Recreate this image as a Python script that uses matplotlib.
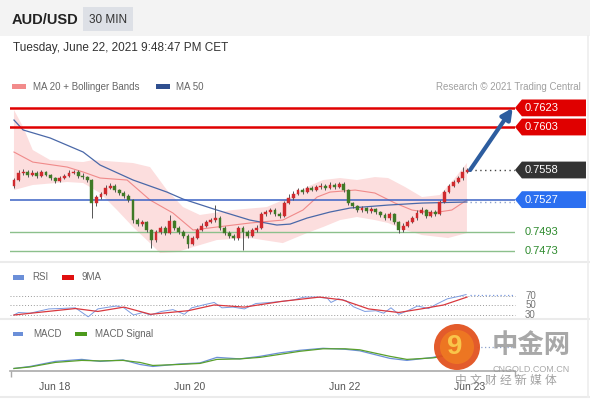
import numpy as np
import matplotlib.pyplot as plt
from matplotlib.patches import Polygon, Rectangle, Circle

plt.rcParams['font.family'] = ['Liberation Sans', 'Noto Sans CJK SC', 'DejaVu Sans']

# AUD/USD 30 min candles
opens = [0.75412, 0.75475, 0.75548, 0.75559, 0.75527, 0.75548, 0.75517, 0.75559, 0.75527, 0.75496,
         0.75465, 0.75496, 0.75517, 0.75548, 0.75559, 0.75517, 0.75507, 0.75475, 0.75234, 0.75297,
         0.75329, 0.75391, 0.75412, 0.75370, 0.75339, 0.75308, 0.75266, 0.75056, 0.75014, 0.75035,
         0.74952, 0.74847, 0.74931, 0.74973, 0.74920, 0.75046, 0.74973, 0.74931, 0.74889, 0.74805,
         0.74868, 0.74952, 0.74994, 0.75035, 0.75056, 0.75077, 0.74973, 0.74920, 0.74889, 0.74868,
         0.74973, 0.74931, 0.74889, 0.74952, 0.74973, 0.75119, 0.75140, 0.75161, 0.75119, 0.75098,
         0.75234, 0.75287, 0.75329, 0.75370, 0.75349, 0.75391, 0.75370, 0.75402, 0.75412, 0.75391,
         0.75423, 0.75402, 0.75433, 0.75370, 0.75234, 0.75203, 0.75161, 0.75182, 0.75151, 0.75171,
         0.75140, 0.75109, 0.75077, 0.75119, 0.75035, 0.74952, 0.74994, 0.75035, 0.75077, 0.75130,
         0.75161, 0.75098, 0.75140, 0.75119, 0.75245, 0.75349, 0.75412, 0.75454, 0.75496, 0.75559]
closes = [0.75475, 0.75548, 0.75559, 0.75527, 0.75548, 0.75517, 0.75559, 0.75527, 0.75496, 0.75465,
          0.75496, 0.75517, 0.75548, 0.75559, 0.75517, 0.75507, 0.75475, 0.75234, 0.75297, 0.75329,
          0.75391, 0.75412, 0.75370, 0.75339, 0.75308, 0.75266, 0.75056, 0.75014, 0.75035, 0.74952,
          0.74847, 0.74931, 0.74973, 0.74920, 0.75046, 0.74973, 0.74931, 0.74889, 0.74805, 0.74868,
          0.74952, 0.74994, 0.75035, 0.75056, 0.75077, 0.74973, 0.74920, 0.74889, 0.74868, 0.74973,
          0.74931, 0.74889, 0.74952, 0.74973, 0.75119, 0.75140, 0.75161, 0.75119, 0.75098, 0.75234,
          0.75287, 0.75329, 0.75370, 0.75349, 0.75391, 0.75370, 0.75402, 0.75412, 0.75391, 0.75423,
          0.75402, 0.75433, 0.75370, 0.75234, 0.75203, 0.75161, 0.75182, 0.75151, 0.75171, 0.75140,
          0.75109, 0.75077, 0.75119, 0.75035, 0.74952, 0.74994, 0.75035, 0.75077, 0.75130, 0.75161,
          0.75098, 0.75140, 0.75119, 0.75245, 0.75349, 0.75412, 0.75454, 0.75496, 0.75559, 0.75580]
highs = [0.75500, 0.75580, 0.75590, 0.75575, 0.75575, 0.75565, 0.75585, 0.75570, 0.75540, 0.75510,
         0.75520, 0.75540, 0.75575, 0.75580, 0.75575, 0.75545, 0.75520, 0.75485, 0.75320, 0.75350,
         0.75420, 0.75440, 0.75430, 0.75385, 0.75355, 0.75325, 0.75280, 0.75080, 0.75060, 0.75050,
         0.74965, 0.74955, 0.74995, 0.74990, 0.75110, 0.75060, 0.74990, 0.74950, 0.74905, 0.74890,
         0.74975, 0.75020, 0.75060, 0.75080, 0.75213, 0.75100, 0.74990, 0.74940, 0.74910, 0.74995,
         0.74990, 0.74950, 0.74975, 0.75000, 0.75140, 0.75165, 0.75185, 0.75180, 0.75140, 0.75260,
         0.75330, 0.75360, 0.75395, 0.75390, 0.75415, 0.75410, 0.75425, 0.75440, 0.75430, 0.75450,
         0.75440, 0.75455, 0.75450, 0.75385, 0.75250, 0.75215, 0.75205, 0.75195, 0.75195, 0.75185,
         0.75155, 0.75125, 0.75140, 0.75135, 0.75050, 0.75020, 0.75060, 0.75100, 0.75160, 0.75190,
         0.75175, 0.75165, 0.75160, 0.75270, 0.75370, 0.75435, 0.75475, 0.75520, 0.75610, 0.75600]
lows = [0.75390, 0.75460, 0.75530, 0.75510, 0.75515, 0.75500, 0.75505, 0.75515, 0.75480, 0.75445,
        0.75455, 0.75485, 0.75505, 0.75535, 0.75500, 0.75490, 0.75455, 0.75077, 0.75200, 0.75280,
        0.75315, 0.75380, 0.75350, 0.75320, 0.75290, 0.75250, 0.75030, 0.74990, 0.74995, 0.74930,
        0.74763, 0.74830, 0.74915, 0.74900, 0.74905, 0.74955, 0.74910, 0.74870, 0.74763, 0.74790,
        0.74855, 0.74940, 0.74980, 0.75020, 0.75040, 0.74955, 0.74900, 0.74870, 0.74845, 0.74850,
        0.74742, 0.74870, 0.74875, 0.74935, 0.74960, 0.75100, 0.75120, 0.75100, 0.75080, 0.75085,
        0.75220, 0.75270, 0.75315, 0.75330, 0.75335, 0.75355, 0.75355, 0.75385, 0.75375, 0.75380,
        0.75385, 0.75390, 0.75350, 0.75215, 0.75185, 0.75140, 0.75145, 0.75130, 0.75135, 0.75120,
        0.75090, 0.75055, 0.75060, 0.75010, 0.74920, 0.74935, 0.74980, 0.75020, 0.75060, 0.75115,
        0.75080, 0.75085, 0.75100, 0.75105, 0.75230, 0.75335, 0.75400, 0.75440, 0.75480, 0.75545]

# indicators, sampled at candle positions
ma20_x = [0, 4.1, 11.6, 15.1, 18.8, 24.7, 29.7, 34.7, 39.1, 44.3, 51.5, 58.7, 63.1, 66.2, 69.0,
          74.5, 78.8, 83.2, 86.9, 91.3, 95.6, 98.9]
ma20 = [0.75768, 0.75663, 0.75611, 0.75559, 0.75496, 0.75475, 0.75266, 0.75130, 0.74952, 0.74983,
        0.75025, 0.75056, 0.75161, 0.75297, 0.75349, 0.75370, 0.75339, 0.75234, 0.75161, 0.75130,
        0.75161, 0.75266]
ma50_x = [0, 2.0, 7.9, 15.1, 18.8, 26.0, 33.4, 36.9, 44.3, 51.5, 57.4, 60.3, 64.0, 69.0, 73.4,
          81.7, 89.1, 98.9]
ma50 = [0.76103, 0.75999, 0.75915, 0.75768, 0.75632, 0.75475, 0.75349, 0.75276, 0.75161, 0.75056,
        0.75004, 0.75014, 0.75077, 0.75140, 0.75182, 0.75213, 0.75234, 0.75245]
bb_up_x = [0, 2.0, 4.1, 7.9, 15.1, 17.2, 26.0, 29.7, 33.4, 36.9, 40.6, 47.8, 55.2, 60.3, 64.0,
           67.5, 71.2, 74.9, 78.8, 81.7, 85.4, 89.1, 93.0, 96.3, 98.9]
bb_up = [0.76208, 0.76030, 0.75789, 0.75684, 0.75663, 0.75684, 0.75653, 0.75611, 0.75370, 0.75192,
         0.75109, 0.75161, 0.75192, 0.75297, 0.75402, 0.75475, 0.75496, 0.75475, 0.75506, 0.75496,
         0.75402, 0.75297, 0.75318, 0.75496, 0.75653]
bb_lo_x = [0, 4.1, 11.6, 15.1, 18.8, 22.5, 26.0, 29.7, 31.9, 35.6, 39.1, 44.3, 51.5, 58.7, 60.3,
           64.0, 67.5, 71.2, 74.9, 78.8, 81.7, 85.4, 89.1, 94.8, 98.9]
bb_lo = [0.75370, 0.75423, 0.75454, 0.75444, 0.75339, 0.75161, 0.74983, 0.74815, 0.74711, 0.74721,
         0.74773, 0.74847, 0.74868, 0.74815, 0.74847, 0.74920, 0.74983, 0.75056, 0.75088, 0.75056,
         0.75025, 0.74952, 0.74899, 0.74868, 0.74920]

rsi_x = [0, 1, 3.5, 7.6, 10, 13.4, 16.2, 18.3, 20.7, 22.4, 24, 26.1, 28.1, 29.8, 32.2, 34.7, 37.2,
         38.8, 41.3, 43.7, 45.4, 47.8, 50.3, 52.8, 56, 58.5, 61, 63.4, 65.9, 68.4, 69.2, 70.8, 72.5,
         74.1, 76.6, 79, 80.7, 82.3, 84, 85.6, 88.1, 90.5, 92.2, 94.6, 97.1, 98.7]
rsi = [30, 35.3, 33.8, 42.8, 43.6, 45.1, 26.2, 42.8, 46.6, 48.9, 45.1, 30, 35.3, 30, 37.5, 41.3, 31.5,
       45.1, 51.1, 56.4, 45.1, 46.6, 42.8, 54.2, 56.4, 58.7, 61.7, 67.7, 67.7, 65.5, 56.4, 64, 60.2,
       47.4, 37.5, 39, 33.8, 45.1, 31.5, 37.5, 48.9, 43.6, 52.6, 64, 69.2, 73]
rsi_ma_x = [0, 5.2, 13.4, 18.3, 24, 29.8, 38, 43.7, 50.3, 58.5, 66.7, 71.7, 77.4, 84, 88.9, 93.8, 98.9]
rsi_ma = [30, 35.3, 43.6, 37.5, 46.6, 31.5, 39, 51.1, 46.6, 58.7, 67.7, 61.7, 42.8, 35.3, 42.8, 51.1, 67.7]
rsi_levels = [70, 50, 30]

macd_x = [0, 3.5, 9.0, 14.8, 18.8, 23.8, 27.5, 30.3, 36.2, 40.6, 44.3, 49.3, 53.7, 58.1, 62.4, 67.5,
          72.3, 75.5, 82.1, 85.8, 91.5, 96.3, 99.1]
macd = [-0.0008, -0.0006, -0.0001, 0.0001, -0.0001, 0.00005, -0.0004, -0.0006, -0.00035, -0.00025,
        0.0003, 0.00015, 0.0004, 0.00075, 0.0010, 0.0012, 0.0011, 0.00095, 0.0002, 0.0, 0.0003,
        0.0008, 0.0013]
macd_signal = [-0.0008, -0.00065, -0.0002, 0.0, -0.00005, 0.0, -0.0002, -0.0005, -0.0004, -0.0003,
               0.0001, 0.00015, 0.0003, 0.0006, 0.0009, 0.00115, 0.00115, 0.00105, 0.0004, 0.0001,
               0.00025, 0.0006, 0.0010]

resistances = [0.7623, 0.7603]
pivot = 0.7527
supports = [0.7493, 0.7473]
last_price = 0.7558

date_ticks = [8.95, 38.4, 72.3, 99.6]
date_labels = ['Jun 18', 'Jun 20', 'Jun 22', 'Jun 23']

X0, X1 = -0.87, 109.4   # visible candle range (pixel 10 .. 515)

fig = plt.figure(figsize=(5.9, 4.0), dpi=100)
fig.patch.set_facecolor('white')

# background layer in pixel coordinates
bg = fig.add_axes([0, 0, 1, 1], zorder=0)
bg.set_xlim(0, 590)
bg.set_ylim(400, 0)
bg.axis('off')
bg.add_patch(Rectangle((0, 0), 590, 36, color='#f3f3f3', lw=0))
bg.add_patch(Rectangle((83, 7), 50, 24, color='#dde0e6', lw=0))
bg.text(12, 20, 'AUD/USD', fontsize=10.5, fontweight='bold', color='#222222', va='center')
bg.text(108, 20, '30 MIN', fontsize=8.5, color='#333333', va='center', ha='center')
bg.text(13, 48, 'Tuesday, June 22, 2021 9:48:47 PM CET', fontsize=8.5, color='#333333', va='center')
for yy in [262, 318.5, 397]:
    bg.axhline(yy, color='#ebebeb', lw=1.5)
bg.axvline(588, ymin=0.0075, ymax=0.91, color='#eeeeee', lw=1.2)

legend_col = '#666666'
bg.add_patch(Rectangle((12, 84), 14, 5, color='#f28b8b', lw=0))
bg.text(33, 86.5, 'MA 20 + Bollinger Bands', fontsize=7, color=legend_col, va='center')
bg.add_patch(Rectangle((156, 84), 14, 5, color='#2f4f8f', lw=0))
bg.text(176, 86.5, 'MA 50', fontsize=7, color=legend_col, va='center')
bg.text(581, 86.5, 'Research \u00a9 2021 Trading Central', fontsize=7, color='#a0a0a0',
        va='center', ha='right')
bg.add_patch(Rectangle((13, 275), 11, 5, color='#6b8fd8', lw=0))
bg.text(32, 277.5, 'RSI', fontsize=7, color=legend_col, va='center')
bg.add_patch(Rectangle((62, 275), 12, 5, color='#e01010', lw=0))
bg.text(82, 277.5, '9MA', fontsize=7, color=legend_col, va='center')
bg.add_patch(Rectangle((13, 332), 10, 4, color='#6b8fd8', lw=0))
bg.text(33, 334, 'MACD', fontsize=7, color=legend_col, va='center')
bg.add_patch(Rectangle((75, 332), 12, 4, color='#4c9a1c', lw=0))
bg.text(95, 334, 'MACD Signal', fontsize=7, color=legend_col, va='center')

# main price panel
ax = fig.add_axes([10 / 590, 138 / 400, 505 / 590, 167 / 400], zorder=2)
ax.set_facecolor('none')
ax.set_xlim(X0, X1)
ax.set_ylim(0.74617, 0.76365)
ax.axis('off')

ax.fill(np.concatenate([bb_up_x, bb_lo_x[::-1]]), np.concatenate([bb_up, bb_lo[::-1]]),
        color='#fcdede', lw=0, zorder=1)
ax.plot(ma20_x, ma20, color='#f08a8a', lw=0.8, zorder=2)
ax.plot(ma50_x, ma50, color='#4a68a8', lw=0.9, zorder=2)

for r in resistances:
    ax.axhline(r, color='#e00000', lw=1.8, zorder=2)
ax.axhline(pivot, color='#3a62c4', lw=1.1, zorder=2)
for s in supports:
    ax.axhline(s, color='#8cc08c', lw=1.0, zorder=2)

idx = np.arange(len(closes))
o = np.array(opens)
c = np.array(closes)
cols = np.where(c >= o, '#d02a2e', '#3f7a26')
ax.vlines(idx, lows, highs, color='#555555', lw=0.7, zorder=3)
ax.bar(idx, np.maximum(np.abs(c - o), 0.00004), bottom=np.minimum(o, c), width=0.62,
       color=cols, edgecolor=cols, lw=0.3, zorder=4)

ax.hlines(last_price, idx[-1] + 0.6, X1, colors='#444444', linestyles=(0, (1, 2.5)), lw=1, zorder=3)
ax.hlines(ma50[-1], idx[-1] + 0.6, X1, colors='#8ea3cc', linestyles=(0, (1, 2.5)), lw=1, zorder=3)

ax.annotate('', xy=(108.9, resistances[0]), xytext=(idx[-1] + 0.6, last_price),
            arrowprops=dict(arrowstyle='-|>', color='#2d5d9f', lw=3, mutation_scale=16,
                            shrinkA=0, shrinkB=0), zorder=6)


def tag(y, face, tcol='white'):
    xa, xb, tip, h = X1, 124.9, 1.5, 0.00088
    ax.add_patch(Polygon([(xa, y), (xa + tip, y + h), (xb, y + h), (xb, y - h), (xa + tip, y - h)],
                         closed=True, fc=face, ec='none', clip_on=False, zorder=6))
    ax.text(111.6, y, '%.4f' % y, color=tcol, fontsize=8, va='center', ha='left',
            clip_on=False, zorder=7)


for r in resistances:
    tag(r, '#e00000')
tag(last_price, '#333333')
tag(pivot, '#2b6ff0')
for s in supports:
    ax.text(111.6, s, '%.4f' % s, color='#2e8b2e', fontsize=8, va='center', ha='left',
            clip_on=False)

# RSI panel
ax2 = fig.add_axes([10 / 590, 82 / 400, 550 / 590, 31 / 400], zorder=2)
ax2.set_facecolor('none')
ax2.set_xlim(X0, 119.2)
ax2.set_ylim(23.7, 88.9)
ax2.axis('off')
for lv in rsi_levels:
    ax2.hlines(lv, X0, X1, colors='#9a9a9a', linestyles=(0, (1, 2)), lw=0.7)
    ax2.text(111.6, lv, str(lv), fontsize=7, color='#777777', va='center', ha='left', clip_on=True)
ax2.plot(rsi_x, rsi, color='#7b9be0', lw=0.7, zorder=3)
ax2.plot(rsi_ma_x, rsi_ma, color='#d9383e', lw=0.9, zorder=4)
ax2.hlines(rsi[-1], idx[-1] + 0.6, X1, colors='#7b9be0', linestyles=(0, (1, 2)), lw=0.9)

# MACD panel
ax3 = fig.add_axes([10 / 590, 29.5 / 400, 505 / 590, 50.5 / 400], zorder=2)
ax3.set_facecolor('none')
ax3.set_xlim(X0, X1)
ax3.set_ylim(-0.001, 0.004)
for side in ['top', 'left', 'right']:
    ax3.spines[side].set_visible(False)
ax3.spines['bottom'].set_color('#aaaaaa')
ax3.spines['bottom'].set_linewidth(1.2)
ax3.set_yticks([])
ax3.set_xticks(date_ticks)
ax3.set_xticklabels(date_labels)
ax3.set_xticks([X0 + 0.2, X1 - 0.1], minor=True)
ax3.tick_params(axis='x', which='major', length=0, pad=8, labelsize=7.5, labelcolor='#555555')
ax3.tick_params(axis='x', which='minor', length=4, color='#aaaaaa', width=1)
ax3.plot(macd_x, macd, color='#6b8fd8', lw=0.9, zorder=3)
ax3.plot(macd_x, macd_signal, color='#5aa02c', lw=0.9, zorder=3)
ax3.hlines(macd[-1], idx[-1] + 2, X1, colors='#8ea3cc', linestyles=(0, (1, 2)), lw=0.9)

# watermark
fg = fig.add_axes([0, 0, 1, 1], zorder=10)
fg.set_facecolor('none')
fg.set_xlim(0, 590)
fg.set_ylim(400, 0)
fg.axis('off')
fg.add_patch(Circle((457, 347), 23, color='#e2521f', alpha=0.95, lw=0))
fg.add_patch(Circle((457, 347), 17, color='#ef7a22', alpha=0.9, lw=0))
fg.text(455, 347, '9', fontsize=20, fontweight='bold', color='#f9c54a', ha='center', va='center')
fg.text(531, 346, '中金网', fontsize=19, fontweight='bold', color='#999999', alpha=0.85,
        ha='center', va='center')
fg.text(531, 369, 'CNGOLD.COM.CN', fontsize=6.5, color='#9a9a9a', alpha=0.85, ha='center', va='center')
fg.text(506, 381, '中 文 财 经 新 媒 体', fontsize=8.5, color='#8a8a8a', alpha=0.8,
        ha='center', va='center')

fig.savefig('out.png', dpi=100)
